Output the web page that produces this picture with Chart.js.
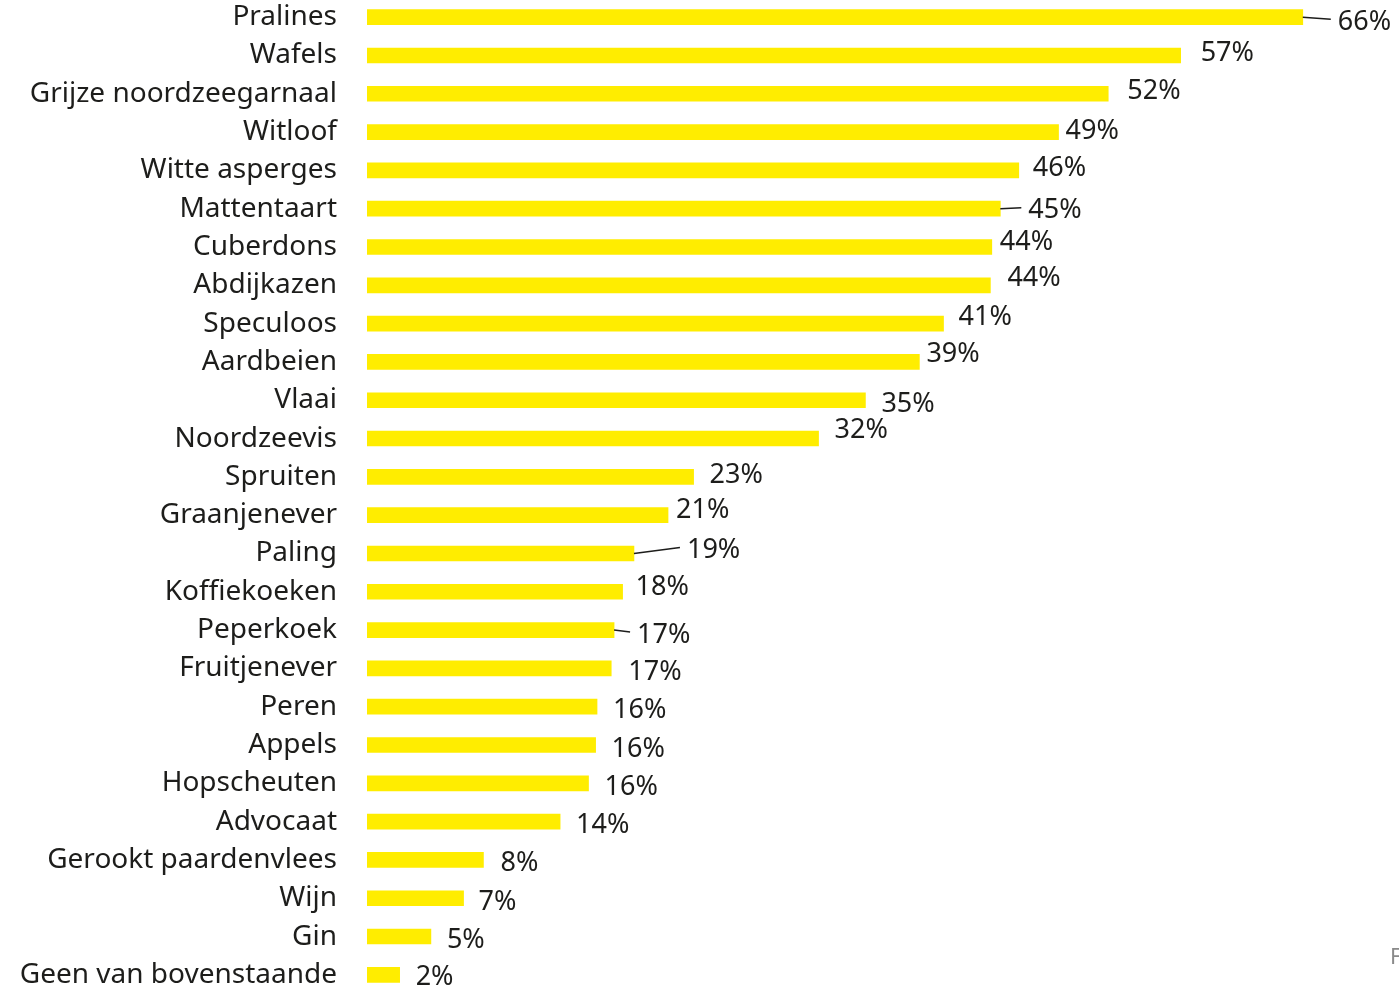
<!DOCTYPE html>
<html>
<head>
<meta charset="utf-8">
<script src="https://cdn.jsdelivr.net/npm/chart.js@4.4.0/dist/chart.umd.min.js"></script>
<style>
  html, body { margin: 0; padding: 0; background: #fff; overflow: hidden; }
  #productChart { position: absolute; left: 0; top: -2px; }
  #side { position: absolute; left: 1390px; top: 940px; font: 22px "Noto Sans", sans-serif; color: #8a8a8a; }
</style>
</head>
<body>
<canvas id="productChart" width="1399" height="996"></canvas>
<div id="side">F</div>
<script>
// Categories and shares (%)
const categories = [
    "Pralines", "Wafels", "Grijze noordzeegarnaal", "Witloof", "Witte asperges",
    "Mattentaart", "Cuberdons", "Abdijkazen", "Speculoos", "Aardbeien", "Vlaai",
    "Noordzeevis", "Spruiten", "Graanjenever", "Paling", "Koffiekoeken", "Peperkoek",
    "Fruitjenever", "Peren", "Appels", "Hopscheuten", "Advocaat",
    "Gerookt paardenvlees", "Wijn", "Gin", "Geen van bovenstaande"
];
const shares = [
    65.9, 57.3, 52.2, 48.7, 45.9, 44.6, 44.0, 43.9, 40.6, 38.9, 35.1,
    31.8, 23.0, 21.2, 18.8, 18.0, 17.4, 17.2, 16.2, 16.1, 15.6, 13.6,
    8.2, 6.8, 4.5, 2.3
];
const shareLabels = [
    "66%", "57%", "52%", "49%", "46%", "45%", "44%", "44%", "41%", "39%", "35%",
    "32%", "23%", "21%", "19%", "18%", "17%", "17%", "16%", "16%", "16%", "14%",
    "8%", "7%", "5%", "2%"
];

// label nudges (px) relative to bar end, like in the original layout
const labelDx = [35, 20, 19, 7, 14, 28, 8, 17, 15, 7, 16, 16, 16, 8, 53, 13, 23, 17, 16, 16, 16, 16, 17, 15, 16, 16];
const labelDy = [5, -2, -2, -1, -2, 2, -5, -7, -6, -8, 4, -8, -2, -5, -3, -4, 5, 4, 4, 4, 4, 4, 3, 4, 4, 2];
const leaderLines = [0, 5, 14, 16];

const fontFamily = '"Noto Sans", "Open Sans", sans-serif';

const valueLabels = {
    id: "valueLabels",
    afterDatasetsDraw(chart) {
        const ctx = chart.ctx;
        const meta = chart.getDatasetMeta(0);
        ctx.save();
        ctx.font = "27px " + fontFamily;
        ctx.fillStyle = "#1d1d1b";
        ctx.textBaseline = "middle";
        ctx.textAlign = "left";
        meta.data.forEach((bar, i) => {
            const tx = bar.x + labelDx[i];
            const ty = bar.y + labelDy[i];
            if (leaderLines.includes(i)) {
                ctx.strokeStyle = "#1d1d1b";
                ctx.lineWidth = 1.5;
                ctx.beginPath();
                ctx.moveTo(bar.x, bar.y);
                ctx.lineTo(tx - 7, ty - 3);
                ctx.stroke();
            }
            ctx.fillText(shareLabels[i], tx, ty);
        });
        ctx.restore();
    }
};

const ctx = document.getElementById("productChart").getContext("2d");

new Chart(ctx, {
    type: "bar",
    data: {
        labels: categories,
        datasets: [{
            data: shares,
            backgroundColor: "#ffed00",
            borderWidth: 0,
            barThickness: 15
        }]
    },
    options: {
        indexAxis: "y",
        responsive: false,
        animation: false,
        layout: { padding: { left: 0, right: 38, top: 0, bottom: 0 } },
        plugins: {
            legend: { display: false },
            tooltip: { enabled: false }
        },
        scales: {
            x: {
                display: false,
                min: 0,
                max: 70
            },
            y: {
                grid: { display: false, drawTicks: false },
                border: { display: false },
                ticks: {
                    padding: 30,
                    color: "#1d1d1b",
                    font: { family: fontFamily, size: 28 }
                },
                afterFit(scale) {
                    scale.width = 367;
                    scale.paddingTop = 0;
                    scale.paddingBottom = 0;
                }
            }
        }
    },
    plugins: [valueLabels]
});
</script>
</body>
</html>
